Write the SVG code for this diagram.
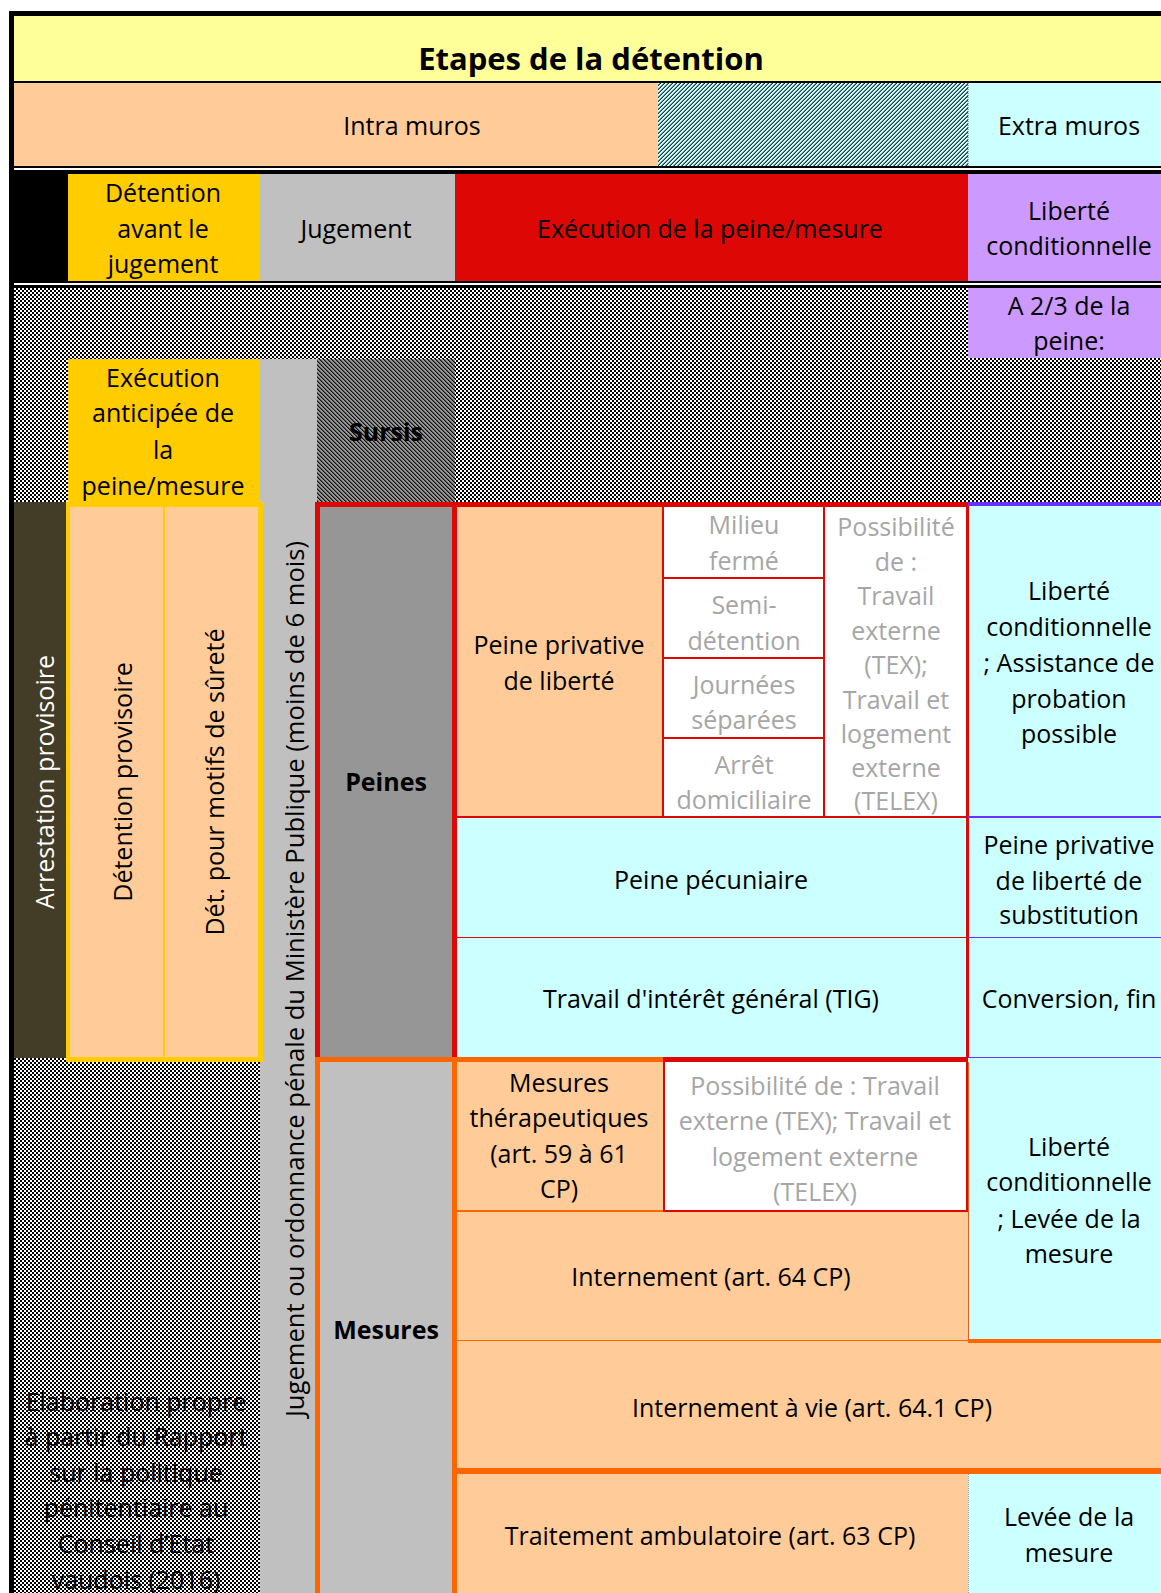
<svg xmlns="http://www.w3.org/2000/svg" width="1161" height="1593" viewBox="0 0 1161 1593">
<defs>
<style>
.t{font-family:"Open Sans","Liberation Sans",sans-serif;font-size:25px;text-anchor:middle;fill:#000}
.b{font-weight:bold}
.g{fill:#A6A6A6}
.w{fill:#fff}
</style>
<pattern id="chk" width="4" height="4" patternUnits="userSpaceOnUse">
<rect width="4" height="4" fill="#fff"/>
<path d="M0 0h2v2h-2z M2 2h2v2h-2z" fill="#000"/>
</pattern>
<pattern id="h1" width="4" height="4" patternUnits="userSpaceOnUse">
<rect width="4" height="4" fill="#CCFFFF"/>
<path d="M0 3h1v1h-1z M1 2h1v1h-1z M2 1h1v1h-1z M3 0h1v1h-1z" fill="#1E3C3C"/>
<path d="M0 2h1v1h-1z M1 1h1v1h-1z M2 0h1v1h-1z M3 3h1v1h-1z" fill="#6E9090"/>
</pattern>
<pattern id="h2" width="4" height="4" patternUnits="userSpaceOnUse">
<rect width="4" height="4" fill="#969696"/>
<path d="M0 0h1v1h-1z M1 1h1v1h-1z M2 2h1v1h-1z M3 3h1v1h-1z" fill="#111"/>
<path d="M1 0h1v1h-1z M2 1h1v1h-1z M3 2h1v1h-1z M0 3h1v1h-1z" fill="#555"/>
</pattern>
</defs>
<rect width="1161" height="1593" fill="#fff"/>

<g id="frame">
<rect x="9" y="11" width="1152" height="5" fill="#000"/>
<rect x="9" y="11" width="5" height="1582" fill="#000"/>
</g>

<g id="title">
<rect x="14" y="16" width="1147" height="65" fill="#FFFF99"/>
<rect x="14" y="81" width="1147" height="2" fill="#000"/>
<text class="t b" x="591" y="70" style="font-size:31px">Etapes de la détention</text>
</g>

<g id="row-lieu">
<rect x="14" y="83" width="644" height="84" fill="#FFCC99"/>
<rect x="658" y="83" width="310" height="84" fill="url(#h1)"/>
<rect x="968" y="83" width="193" height="84" fill="#CCFFFF"/>
<line x1="968" y1="83" x2="968" y2="167" stroke="#555" stroke-width="1" stroke-dasharray="1 1"/>
<text class="t" x="412" y="135">Intra muros</text>
<text class="t" x="1069" y="135">Extra muros</text>
<rect x="14" y="166" width="1147" height="2" fill="#000"/>
<rect x="14" y="170" width="1147" height="4" fill="#000"/>
</g>

<g id="row-etapes">
<rect x="9" y="174" width="59" height="107" fill="#000"/>
<rect x="68" y="174" width="192" height="107" fill="#FFCC00"/>
<rect x="260" y="174" width="195" height="107" fill="#C0C0C0"/>
<rect x="455" y="174" width="513" height="107" fill="#DD0806"/>
<rect x="968" y="174" width="193" height="107" fill="#CC99FF"/>
<text class="t"><tspan x="163" y="202">Détention</tspan><tspan x="163" y="238">avant le</tspan><tspan x="163" y="273">jugement</tspan></text>
<text class="t" x="356" y="238">Jugement</text>
<text class="t" x="710" y="238">Exécution de la peine/mesure</text>
<text class="t"><tspan x="1069" y="220">Liberté</tspan><tspan x="1069" y="255">conditionnelle</tspan></text>
<rect x="14" y="281" width="1147" height="2" fill="#000"/>
<rect x="14" y="285" width="1147" height="3" fill="#000"/>
</g>

<g id="fond-damier">
<rect x="14" y="288" width="954" height="214" fill="url(#chk)"/>
<rect x="968" y="358" width="193" height="144" fill="url(#chk)"/>
<rect x="14" y="1058" width="246" height="535" fill="url(#chk)"/>
</g>

<g id="tiers">
<rect x="968" y="288" width="193" height="70" fill="#CC99FF"/>
<text class="t"><tspan x="1069" y="315">A 2/3 de la</tspan><tspan x="1069" y="350">peine:</tspan></text>
</g>

<g id="execution-anticipee">
<rect x="68" y="359" width="192" height="143" fill="#FFCC00"/>
<text class="t"><tspan x="163" y="387">Exécution</tspan><tspan x="163" y="422">anticipée de</tspan><tspan x="163" y="459">la</tspan><tspan x="163" y="495">peine/mesure</tspan></text>
</g>

<g id="jugement-ordonnance">
<rect x="260" y="359" width="57" height="1234" fill="#C0C0C0"/>
<text class="t" x="296" y="987" textLength="876" lengthAdjust="spacingAndGlyphs" transform="rotate(-90 296 979)">Jugement ou ordonnance pénale du Ministère Publique (moins de 6 mois)</text>
</g>

<g id="sursis">
<rect x="317" y="359" width="138" height="143" fill="url(#h2)"/>
<text class="t b" x="386" y="441">Sursis</text>
</g>

<g id="arrestation">
<rect x="14" y="502" width="52" height="556" fill="#433C26"/>
<text class="t w" x="46" y="790" transform="rotate(-90 46 782)">Arrestation provisoire</text>
</g>

<g id="detention-provisoire">
<rect x="66" y="502" width="197" height="560" fill="#FFCC00"/>
<rect x="70" y="507" width="93" height="550" fill="#FFCC99"/>
<rect x="165" y="507" width="93" height="550" fill="#FFCC99"/>
<text class="t" x="124" y="790" transform="rotate(-90 124 782)">Détention provisoire</text>
<text class="t" x="216" y="790" transform="rotate(-90 216 782)">Dét. pour motifs de sûreté</text>
</g>

<g id="peines">
<rect x="317" y="502" width="138" height="556" fill="#969696"/>
<text class="t b" x="386" y="791">Peines</text>
</g>

<g id="peine-privative">
<rect x="455" y="507" width="208" height="310" fill="#FFCC99"/>
<text class="t"><tspan x="559" y="654">Peine privative</tspan><tspan x="559" y="690">de liberté</tspan></text>
</g>

<g id="regimes">
<rect x="663" y="507" width="305" height="310" fill="#fff"/>
<text class="t g"><tspan x="744" y="534">Milieu</tspan><tspan x="744" y="570">fermé</tspan></text>
<text class="t g"><tspan x="744" y="614">Semi-</tspan><tspan x="744" y="650">détention</tspan></text>
<text class="t g"><tspan x="744" y="694">Journées</tspan><tspan x="744" y="729">séparées</tspan></text>
<text class="t g"><tspan x="744" y="774">Arrêt</tspan><tspan x="744" y="809">domiciliaire</tspan></text>
<text class="t g"><tspan x="896" y="536">Possibilité</tspan><tspan x="896" y="571">de :</tspan><tspan x="896" y="605">Travail</tspan><tspan x="896" y="640">externe</tspan><tspan x="896" y="674">(TEX);</tspan><tspan x="896" y="709">Travail et</tspan><tspan x="896" y="743">logement</tspan><tspan x="896" y="777">externe</tspan><tspan x="896" y="810">(TELEX)</tspan></text>
</g>

<g id="lc-assistance">
<rect x="968" y="502" width="193" height="315" fill="#CCFFFF"/>
<text class="t"><tspan x="1069" y="600">Liberté</tspan><tspan x="1069" y="636">conditionnelle</tspan><tspan x="1069" y="672">; Assistance de</tspan><tspan x="1069" y="708">probation</tspan><tspan x="1069" y="743">possible</tspan></text>
</g>

<g id="peine-pecuniaire">
<rect x="455" y="817" width="513" height="120" fill="#CCFFFF"/>
<text class="t" x="711" y="889">Peine pécuniaire</text>
</g>

<g id="substitution">
<rect x="968" y="817" width="193" height="120" fill="#CCFFFF"/>
<text class="t"><tspan x="1069" y="854">Peine privative</tspan><tspan x="1069" y="890">de liberté de</tspan><tspan x="1069" y="924">substitution</tspan></text>
</g>

<g id="tig">
<rect x="455" y="937" width="513" height="121" fill="#CCFFFF"/>
<text class="t" x="711" y="1008">Travail d'intérêt général (TIG)</text>
</g>

<g id="conversion">
<rect x="968" y="937" width="193" height="121" fill="#CCFFFF"/>
<text class="t" x="1069" y="1008">Conversion, fin</text>
</g>

<g id="mesures">
<rect x="317" y="1058" width="138" height="535" fill="#C0C0C0"/>
<text class="t b" x="386" y="1339">Mesures</text>
</g>

<g id="mesures-therapeutiques">
<rect x="455" y="1058" width="208" height="153" fill="#FFCC99"/>
<text class="t"><tspan x="559" y="1092">Mesures</tspan><tspan x="559" y="1127">thérapeutiques</tspan><tspan x="559" y="1163">(art. 59 à 61</tspan><tspan x="559" y="1198">CP)</tspan></text>
</g>

<g id="possibilite-mesures">
<rect x="663" y="1058" width="305" height="153" fill="#fff"/>
<text class="t g"><tspan x="815" y="1095">Possibilité de : Travail</tspan><tspan x="815" y="1130">externe (TEX); Travail et</tspan><tspan x="815" y="1166">logement externe</tspan><tspan x="815" y="1201">(TELEX)</tspan></text>
</g>

<g id="lc-levee">
<rect x="968" y="1058" width="193" height="282" fill="#CCFFFF"/>
<text class="t"><tspan x="1069" y="1156">Liberté</tspan><tspan x="1069" y="1191">conditionnelle</tspan><tspan x="1069" y="1228">; Levée de la</tspan><tspan x="1069" y="1263">mesure</tspan></text>
</g>

<g id="internement">
<rect x="455" y="1211" width="513" height="129" fill="#FFCC99"/>
<text class="t" x="711" y="1286">Internement (art. 64 CP)</text>
</g>

<g id="internement-vie">
<rect x="455" y="1340" width="706" height="130" fill="#FFCC99"/>
<text class="t" x="812" y="1417">Internement à vie (art. 64.1 CP)</text>
</g>

<g id="traitement">
<rect x="455" y="1470" width="513" height="123" fill="#FFCC99"/>
<text class="t" x="710" y="1545">Traitement ambulatoire (art. 63 CP)</text>
</g>

<g id="levee">
<rect x="968" y="1470" width="193" height="123" fill="#CCFFFF"/>
<text class="t"><tspan x="1069" y="1526">Levée de la</tspan><tspan x="1069" y="1562">mesure</tspan></text>
</g>

<g id="bordures">
<rect x="163" y="507" width="2" height="550" fill="#FFCC00"/>
<rect x="315" y="502" width="653" height="5" fill="#DD0806"/>
<rect x="315" y="502" width="5" height="556" fill="#DD0806"/>
<rect x="452" y="502" width="5" height="556" fill="#DD0806"/>
<rect x="966" y="502" width="3" height="556" fill="#DD0806"/>
<rect x="968" y="502" width="193" height="4" fill="#6633FF"/>
<rect x="662" y="507" width="2" height="310" fill="#DD0806"/>
<rect x="823" y="507" width="2" height="310" fill="#DD0806"/>
<rect x="663" y="577" width="161" height="2" fill="#DD0806"/>
<rect x="663" y="657" width="161" height="2" fill="#DD0806"/>
<rect x="663" y="737" width="161" height="2" fill="#DD0806"/>
<rect x="455" y="816" width="513" height="2" fill="#DD0806"/>
<rect x="968" y="816" width="193" height="2" fill="#6633FF"/>
<rect x="455" y="937" width="513" height="1" fill="#DD0806"/>
<rect x="968" y="937" width="193" height="1" fill="#6633FF"/>
<rect x="968" y="1057" width="193" height="1" fill="#6633FF"/>
<rect x="315" y="1057" width="348" height="5" fill="#FF6600"/>
<rect x="663" y="1057" width="305" height="5" fill="#DD0806"/>
<rect x="315" y="1058" width="5" height="535" fill="#FF6600"/>
<rect x="452" y="1058" width="5" height="535" fill="#FF6600"/>
<rect x="455" y="1210" width="208" height="2" fill="#FF6600"/>
<rect x="663" y="1058" width="2" height="154" fill="#DD0806"/>
<rect x="966" y="1058" width="2" height="154" fill="#DD0806"/>
<rect x="663" y="1210" width="305" height="2" fill="#DD0806"/>
<rect x="968" y="1062" width="1" height="278" fill="#E06020"/>
<rect x="455" y="1340" width="513" height="1" fill="#FF6600"/>
<rect x="968" y="1339" width="193" height="4" fill="#FF6600"/>
<rect x="455" y="1468" width="706" height="6" fill="#FF6600"/>
<line x1="968.5" y1="1474" x2="968.5" y2="1593" stroke="#999" stroke-width="1" stroke-dasharray="1 1"/>
</g>

<g id="source">
<text class="t"><tspan x="136" y="1411">Elaboration propre</tspan><tspan x="136" y="1446">à partir du Rapport</tspan><tspan x="136" y="1482">sur la politique</tspan><tspan x="136" y="1517">pénitentiaire au</tspan><tspan x="136" y="1553">Conseil d’Etat</tspan><tspan x="136" y="1589">vaudois (2016)</tspan></text>
</g>
</svg>
